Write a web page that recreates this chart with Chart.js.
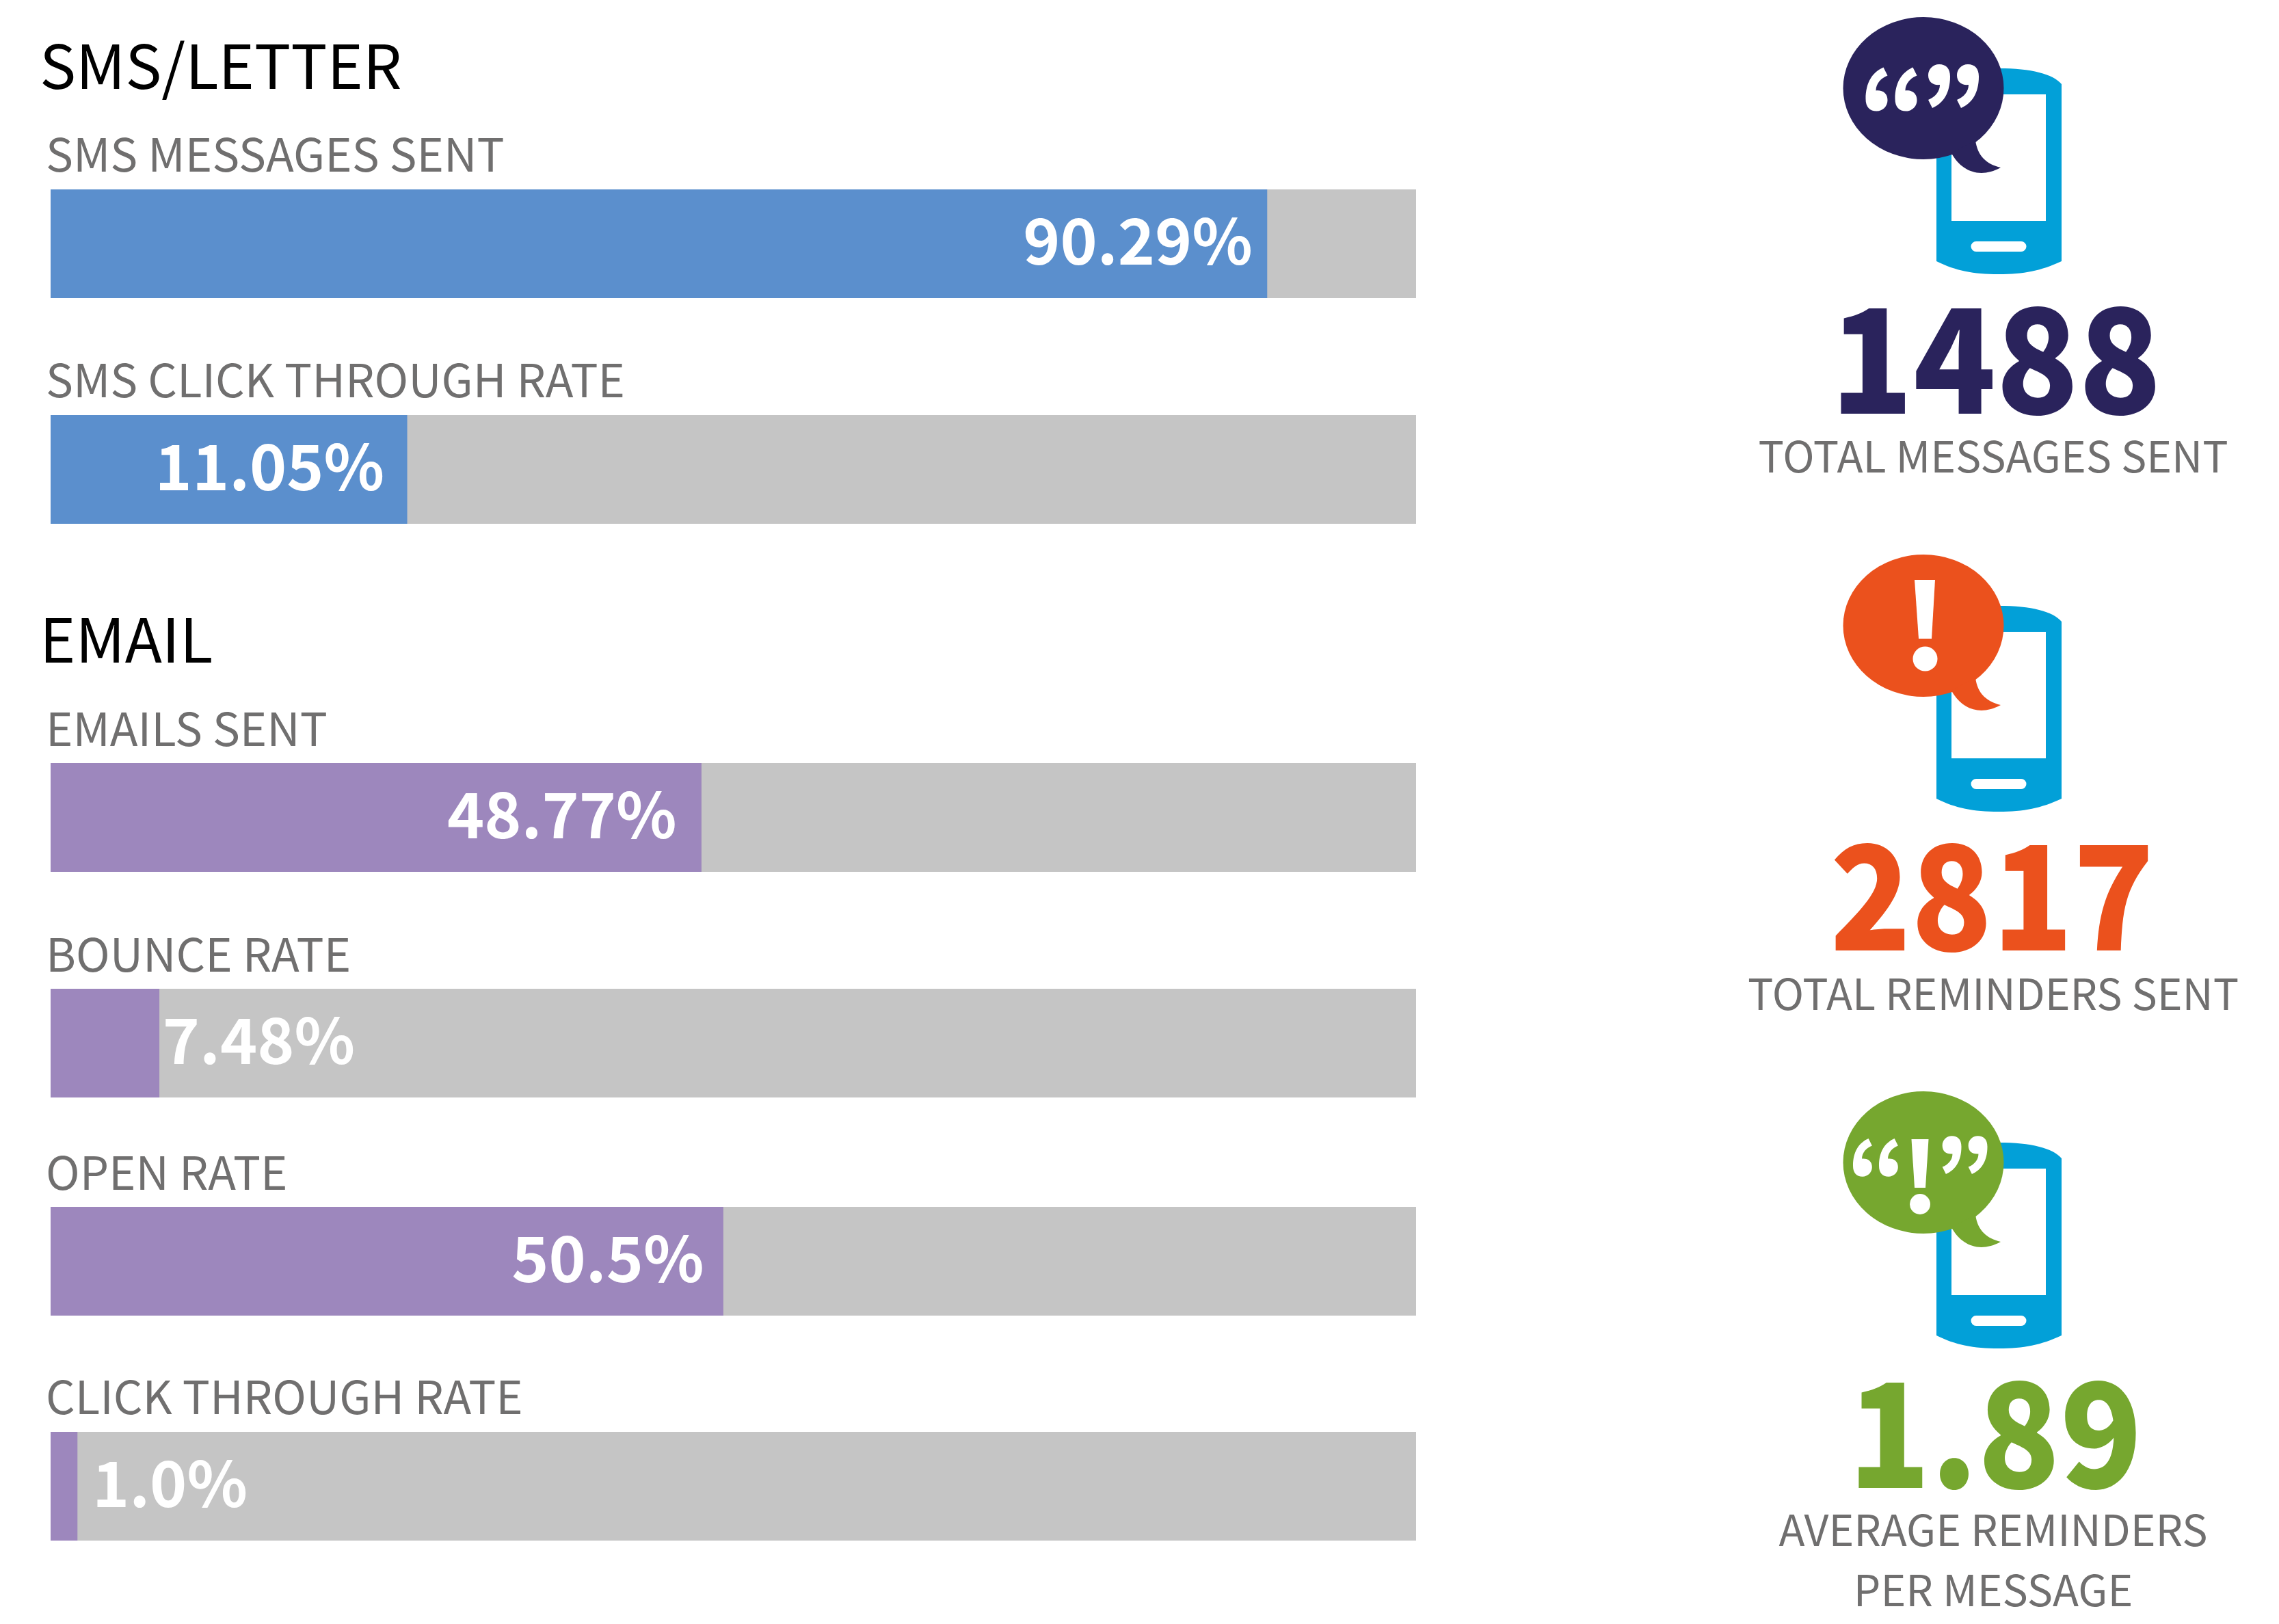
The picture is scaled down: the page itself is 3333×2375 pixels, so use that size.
<!DOCTYPE html>
<html>
<head>
<meta charset="utf-8">
<title>SMS and email reminders</title>
<script src="https://cdn.jsdelivr.net/npm/chart.js@4"></script>
<style>
    html, body { margin: 0; padding: 0; background: #ffffff; overflow: hidden; }
    #page { position: relative; width: 3333px; height: 2375px; }
    #page svg { position: absolute; left: 0; top: 0; }
    #page canvas { position: absolute; left: 74px; }
    .head { font: 400 89px "Noto Sans CJK JP"; fill: #000000; }
    .name { font: 400 67px "Noto Sans CJK JP"; fill: #706f6f; }
    .big { font: 900 212px "Noto Sans CJK JP"; text-anchor: middle; }
    .note { font: 400 62.500px "Noto Sans CJK JP"; fill: #706f6f; text-anchor: middle; }
</style>
</head>
<body>
<div id="page">
<svg width="3333" height="2375" xmlns="http://www.w3.org/2000/svg">
    <defs>
        <path id="phone" fill="#02a0d8" fill-rule="evenodd" d="M2832 382 L2832 123 C2845 108 2875 100 2923 100 C2971 100 3002 108 3015 123 L3015 382 C2985 396 2960 401 2923 401 C2886 401 2860 396 2832 382 Z M2854 138 L2854 323 L2992 323 L2992 138 Z M2890 353 a7.500 7.500 0 0 0 0 15 L2956 368 a7.500 7.500 0 0 0 0 -15 Z"/>
        <path id="tail" d="M2854 224 C2868 250 2895 262 2926 245 C2905 240 2892 228 2889 205 Z"/>
        <path id="quote" fill="#ffffff" d="M26 0 C10 7 0 22 0 46 C0 58 6 64 16 64 C25 64 32 57 32 48 C32 38 25 33 15 34 C15 24 22 16 32 12 Z"/>
    </defs>

    <text class="head" x="58" y="130">SMS/LETTER</text>
    <text class="name" x="67" y="251">SMS MESSAGES SENT</text>
    <text class="name" x="67" y="581">SMS CLICK THROUGH RATE</text>
    <text class="head" x="58" y="969">EMAIL</text>
    <text class="name" x="67" y="1091">EMAILS SENT</text>
    <text class="name" x="67" y="1421">BOUNCE RATE</text>
    <text class="name" x="67" y="1740">OPEN RATE</text>
    <text class="name" x="67" y="2068">CLICK THROUGH RATE</text>

    <!-- messages icon -->
    <use href="#phone"/>
    <ellipse cx="2813" cy="129" rx="117.500" ry="104" fill="#2a235c"/>
    <use href="#tail" fill="#2a235c"/>
    <use href="#quote" transform="translate(2728.500 98.500)"/>
    <use href="#quote" transform="translate(2771.500 98.500)"/>
    <use href="#quote" transform="translate(2852 158) rotate(180)"/>
    <use href="#quote" transform="translate(2894 158) rotate(180)"/>
    <text class="big" x="2919" y="605" fill="#2a235c" textLength="484" lengthAdjust="spacingAndGlyphs">1488</text>
    <text class="note" x="2915" y="691">TOTAL MESSAGES SENT</text>

    <!-- reminders icon -->
    <g transform="translate(0 786)">
        <use href="#phone"/>
        <ellipse cx="2813" cy="129" rx="117.500" ry="104" fill="#eb511d"/>
        <use href="#tail" fill="#eb511d"/>
        <path fill="#ffffff" d="M2800 62 L2830 62 L2825 148 L2806 148 Z"/>
        <circle cx="2815.500" cy="177.500" r="18" fill="#ffffff"/>
    </g>
    <text class="big" x="2913.500" y="1390" fill="#eb511d" textLength="474" lengthAdjust="spacingAndGlyphs">2817</text>
    <text class="note" x="2915" y="1477">TOTAL REMINDERS SENT</text>

    <!-- average icon -->
    <g transform="translate(0 1571)">
        <use href="#phone"/>
        <ellipse cx="2813" cy="129" rx="117.500" ry="104" fill="#76a72f"/>
        <use href="#tail" fill="#76a72f"/>
        <use href="#quote" transform="translate(2710 94) scale(0.87)"/>
        <use href="#quote" transform="translate(2748 94) scale(0.87)"/>
        <path fill="#ffffff" d="M2795.500 95 L2820.500 95 L2816 166 L2800 166 Z"/>
        <circle cx="2808" cy="190" r="15" fill="#ffffff"/>
        <use href="#quote" transform="translate(2868.500 146) rotate(180) scale(0.87)"/>
        <use href="#quote" transform="translate(2906.500 146) rotate(180) scale(0.87)"/>
    </g>
    <text class="big" x="2918" y="2176" fill="#76a72f" textLength="430" lengthAdjust="spacingAndGlyphs">1.89</text>
    <text class="note" x="2915" y="2261">AVERAGE REMINDERS</text>
    <text class="note" x="2915" y="2349">PER MESSAGE</text>
</svg>
</div>

<script>
// Rows, top to bottom
const categories = ['SMS MESSAGES SENT', 'SMS CLICK THROUGH RATE', 'EMAILS SENT', 'BOUNCE RATE', 'OPEN RATE', 'CLICK THROUGH RATE'];

// Printed numbers. The drawn bars do not follow them exactly in the picture
const valueLabels = ['90.29%', '11.05%', '48.77%', '7.48%', '50.5%', '1.0%'];

// Bar lengths, percent of the grey track
const barLengths = [89.08, 26.1, 47.65, 7.95, 49.25, 1.95];
const trackValues = [100, 100, 100, 100, 100, 100];

// Layout and colours
const rowTops = [277, 607, 1116, 1446, 1765, 2094];
const rowColors = ['#5b8fcd', '#5b8fcd', '#9d87bd', '#9d87bd', '#9d87bd', '#9d87bd'];
const labelInside = [true, true, true, false, true, false];
const labelGaps = [21, 33, 36, 5, 28, 22];
const trackWidth = 1997;
const trackHeight = 159;

// Writes the printed number next to the end of the bar
const valueLabelPlugin = {
    id: 'valueLabel',
    afterDatasetsDraw(chart, args, opts) {
        const bar = chart.getDatasetMeta(0).data[0];
        const ctx = chart.ctx;
        ctx.save();
        ctx.font = '700 92px "Noto Sans CJK JP"';
        ctx.fillStyle = '#ffffff';
        ctx.textBaseline = 'alphabetic';
        ctx.textAlign = opts.inside ? 'right' : 'left';
        const x = opts.inside ? bar.x - opts.gap : bar.x + opts.gap;
        ctx.fillText(opts.text, x, bar.y + 30);
        ctx.restore();
    }
};

categories.forEach(function(name, i) {
    const canvas = document.createElement('canvas');
    canvas.width = trackWidth;
    canvas.height = trackHeight;
    canvas.style.top = rowTops[i] + 'px';
    canvas.style.width = trackWidth + 'px';
    canvas.style.height = trackHeight + 'px';
    document.getElementById('page').appendChild(canvas);

    new Chart(canvas, {
        type: 'bar',
        plugins: [valueLabelPlugin],
        data: {
            labels: [name],
            datasets: [
                { data: [barLengths[i]], backgroundColor: rowColors[i], order: 1, grouped: false },
                { data: [trackValues[i]], backgroundColor: '#c5c5c5', order: 2, grouped: false }
            ]
        },
        options: {
            indexAxis: 'y',
            responsive: false,
            animation: false,
            devicePixelRatio: 1,
            layout: { padding: 0 },
            datasets: { bar: { categoryPercentage: 1, barPercentage: 1 } },
            scales: {
                x: { display: false, min: 0, max: 100 },
                y: { display: false }
            },
            plugins: {
                legend: { display: false },
                tooltip: { enabled: false },
                valueLabel: { text: valueLabels[i], inside: labelInside[i], gap: labelGaps[i] }
            }
        }
    });
});
</script>
</body>
</html>
